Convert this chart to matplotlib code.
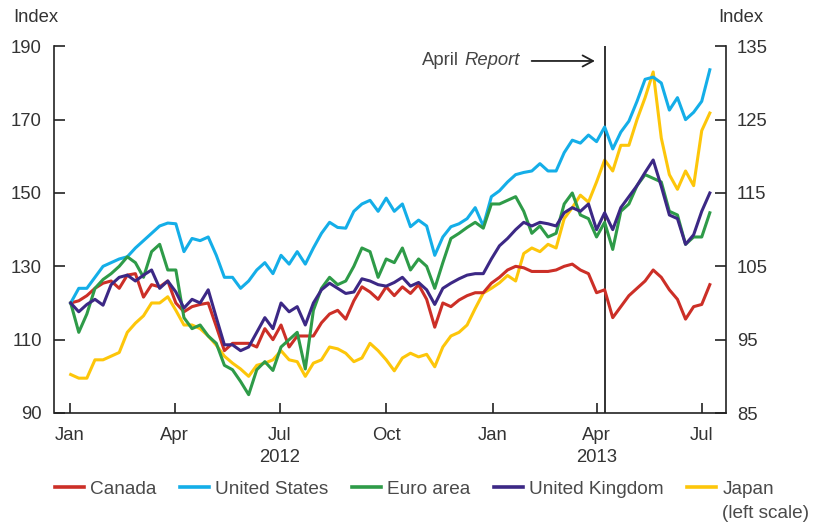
import pandas as pd
import matplotlib
matplotlib.use("Agg")
import matplotlib.pyplot as plt
import matplotlib.dates as mdates

plt.rcParams['font.family'] = ['Liberation Sans', 'DejaVu Sans']

# weekly observations, Jan 2012 to Jul 2013
weeks = pd.date_range("2012-01-02", periods=80, freq="7D")
report_date = pd.Timestamp("2013-04-08")

# right scale (index, Jan 2012 = 100)
canada = [100, 100.3, 101, 102, 102.7, 103, 102, 103.8, 104, 100.8,
          102.5, 102.2, 103, 100, 98.8, 99.5, 99.8, 100, 96.8, 93.5,
          94.5, 94.5, 94.5, 94, 96.5, 95, 97, 94, 95.5, 95.5,
          95.5, 97.3, 98.5, 99, 97.8, 100.3, 102.2, 101.5, 100.5, 102.2,
          101, 102.2, 101.3, 102.5, 100.5, 96.7, 100, 99.5, 100.4, 101,
          101.4, 101.4, 102.7, 103.5, 104.5, 105, 104.8, 104.3, 104.3, 104.3,
          104.5, 105, 105.3, 104.5, 104, 101.4, 101.8, 98, 99.5, 101,
          102, 103, 104.5, 103.5, 101.8, 100.5, 97.8, 99.5, 99.8, 102.5]
united_states = [100, 102, 102, 103.5, 105, 105.5, 106, 106.3, 107.5, 108.5,
                 109.5, 110.5, 110.9, 110.8, 107, 108.8, 108.5, 109, 106.5, 103.5,
                 103.5, 102, 103, 104.5, 105.5, 104, 106.5, 105.3, 107, 105.3,
                 107.5, 109.5, 111, 110.3, 110.2, 112.5, 113.5, 114, 112.5, 114.3,
                 112.5, 113.5, 110.4, 111.3, 110.5, 106.5, 109, 110.4, 110.8, 111.5,
                 113, 110.5, 114.5, 115.3, 116.5, 117.5, 117.8, 118, 119, 118,
                 118, 120.5, 122.2, 121.8, 122.9, 122, 124, 121, 123.3, 124.8,
                 127.5, 130.5, 130.8, 130, 126.3, 128, 125, 126, 127.5, 131.8]
euro_area = [100, 96, 98.5, 102, 103.2, 104, 105, 106.3, 105.5, 103.5,
             107, 108, 104.5, 104.5, 98, 96.5, 97, 95.5, 94.5, 91.5,
             90.9, 89.3, 87.5, 90.9, 92, 90.8, 94, 95, 96, 91,
             99, 102, 103.5, 102.5, 103, 105, 107.5, 107, 103.5, 106,
             105.5, 107.5, 104.5, 106, 105, 102, 105.5, 108.8, 109.5, 110.3,
             111, 110.2, 113.5, 113.5, 114, 114.5, 112.5, 109.5, 110.5, 109,
             109.5, 113.5, 115, 112, 111.5, 109, 111, 107.3, 112.5, 113.5,
             116, 117.5, 117, 116.5, 112.5, 112, 108, 109, 109, 112.3]
united_kingdom = [100, 98.8, 99.8, 100.5, 99.7, 102.5, 103.5, 103.8, 103, 103.8,
                  104.5, 102, 103, 101.5, 99.3, 100.5, 100, 101.8, 98, 94.3,
                  94.3, 93.5, 94, 96, 98, 96.5, 100, 98.8, 99.5, 97,
                  100, 101.8, 102.7, 102, 101.3, 101.5, 103.3, 103, 102.5, 102.3,
                  102.8, 103.5, 102.3, 102.8, 101.8, 99.8, 102, 102.7, 103.3, 103.8,
                  104, 104, 106, 107.8, 108.8, 110, 111, 110.5, 111, 110.8,
                  110.5, 112.3, 113, 112.5, 113.5, 110, 112.3, 110, 113, 114.5,
                  116, 117.8, 119.5, 115.9, 112, 111.5, 108, 109.3, 112.5, 115]
# left scale
japan = [100.5, 99.5, 99.5, 104.5, 104.5, 105.5, 106.5, 112, 114.5, 116.5,
         120, 120, 121.7, 118, 114, 114, 113, 111, 108.5, 105.5,
         103.6, 102, 100, 103, 103.6, 104.5, 107, 104.5, 104, 100,
         103.6, 104.5, 108, 107.5, 106.3, 104, 105, 109, 107, 104.5,
         101.5, 105, 106.3, 105.3, 106, 102.6, 108, 111, 112, 114,
         118.5, 122.7, 124, 125.5, 127.5, 126, 133.5, 135, 134, 136,
         135, 143, 146, 149.4, 147.5, 153, 159, 156, 163, 163,
         170, 176, 183, 165, 155, 151, 156, 152, 167, 171.8]

quarter_ticks = pd.to_datetime(["2012-01-01", "2012-04-01", "2012-07-01", "2012-10-01",
                                "2013-01-01", "2013-04-01", "2013-07-01"])
quarter_labels = ["Jan", "Apr", "Jul", "Oct", "Jan", "Apr", "Jul"]
years = [("2012", "2012-07-01"), ("2013", "2013-04-01")]

W, H = 827, 525
txt = "#333333"
axc = "#222222"
fs = 13.3
fs_leg = 13.7

fig = plt.figure(figsize=(W / 100, H / 100), dpi=100)
ax = fig.add_axes([54.5 / W, 1 - 413 / H, (726 - 54.5) / W, (413 - 46.3) / H])
ax2 = ax.twinx()

lw = 2.2
hj, = ax.plot(weeks, japan, color="#fdc60a", lw=lw, label="Japan")
hc, = ax2.plot(weeks, canada, color="#cc2f27", lw=lw, label="Canada")
hu, = ax2.plot(weeks, united_states, color="#14aee8", lw=lw, label="United States")
he, = ax2.plot(weeks, euro_area, color="#2e9b48", lw=lw, label="Euro area")
hk, = ax2.plot(weeks, united_kingdom, color="#3c2885", lw=lw, label="United Kingdom")

ax.set_ylim(90, 190)
ax2.set_ylim(85, 135)
ax.set_yticks(range(90, 191, 20))
ax2.set_yticks(range(85, 136, 10))
ax.set_xlim(pd.Timestamp("2011-12-19"), pd.Timestamp("2013-07-22"))
ax.set_xticks(quarter_ticks)
ax.set_xticklabels(quarter_labels)

for s in ["top", "right"]:
    ax.spines[s].set_visible(False)
for s in ["top", "left", "bottom"]:
    ax2.spines[s].set_visible(False)
for a in (ax, ax2):
    for s in a.spines.values():
        s.set_color(axc)
        s.set_linewidth(1.2)

ax.tick_params(axis="y", direction="in", length=8, width=1.2, pad=9,
               labelsize=fs, labelcolor=txt, color=axc)
ax2.tick_params(axis="y", direction="in", length=8, width=1.2, pad=8,
                labelsize=fs, labelcolor=txt, color=axc)
ax.tick_params(axis="x", direction="in", length=7, width=1.2, pad=10,
               labelsize=fs, labelcolor=txt, color=axc)

for yr, d in years:
    ax.annotate(yr, xy=(mdates.date2num(pd.Timestamp(d)), 0),
                xycoords=("data", "axes fraction"), xytext=(0, -44),
                textcoords="offset pixels", ha="center", va="center",
                fontsize=fs, color=txt)

fig.text(13 / W, 1 - 17 / H, "Index", fontsize=fs, color=txt, va="center", ha="left")
fig.text(718 / W, 1 - 17 / H, "Index", fontsize=fs, color=txt, va="center", ha="left")

# April Report marker
ax.axvline(report_date, color=axc, lw=1.3, zorder=5)
rx = mdates.date2num(report_date)
ax.annotate("", xy=(rx, 186), xycoords="data", xytext=(-73, 0),
            textcoords="offset pixels",
            arrowprops=dict(arrowstyle="->,head_length=0.75,head_width=0.4",
                            color=axc, lw=1.3, shrinkA=0, shrinkB=7))
ax.annotate("Report", xy=(rx, 186), xytext=(-85, 0), textcoords="offset pixels",
            ha="right", va="center", fontsize=fs, color="#444444", style="italic")
ax.annotate("April", xy=(rx, 186), xytext=(-146, 0), textcoords="offset pixels",
            ha="right", va="center", fontsize=fs, color="#444444")

leg = fig.legend([hc, hu, he, hk, hj],
                 ["Canada", "United States", "Euro area", "United Kingdom", "Japan"],
                 loc="center left", bbox_to_anchor=(55 / W, 1 - 489 / H), ncol=5,
                 frameon=False, handlelength=1.55, handletextpad=0.31,
                 columnspacing=1.22, borderpad=0, borderaxespad=0, fontsize=fs_leg)
for t in leg.get_texts():
    t.set_color("#4a4a4a")
for l in leg.get_lines():
    l.set_linewidth(2.6)

fig.canvas.draw()
bb = leg.get_texts()[4].get_window_extent()
fig.text(bb.x0 / W, 1 - 513 / H, "(left scale)", fontsize=fs_leg, color="#4a4a4a",
         va="center", ha="left")

fig.savefig("out.png", dpi=100)
